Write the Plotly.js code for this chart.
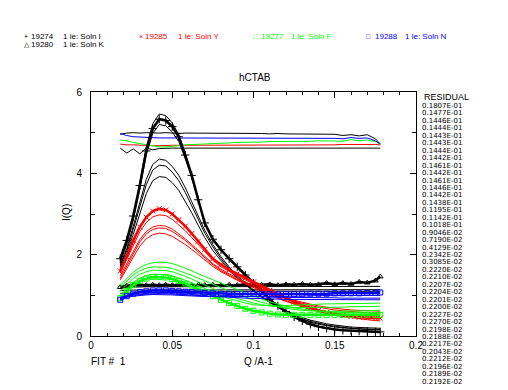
<!DOCTYPE html>
<html>
<head>
<meta charset="utf-8">
<script src="https://cdn.plot.ly/plotly-3.0.1.min.js"></script>
<style>
html,body{margin:0;padding:0;background:#fff;}
#chart{width:508px;height:390px;}
</style>
</head>
<body>
<div id="chart"></div>
<script>
// ---------- DATA ----------
const Q = [0.018,0.022,0.026,0.030,0.034,0.038,0.042,0.046,0.050,0.054,0.058,0.062,0.066,0.070,0.075,0.080,0.085,0.090,0.095,0.100,0.105,0.110,0.115,0.120,0.125,0.130,0.135,0.140,0.145,0.150,0.155,0.160,0.165,0.170,0.175,0.178];

// Soln I (black, +)
const solnI_data = [1.9,2.35,2.95,3.7,4.55,5.1,5.33,5.3,5.15,4.9,4.45,3.95,3.35,2.78,2.38,2.12,1.9,1.7,1.5,1.3,1.1,0.9,0.74,0.6,0.47,0.37,0.29,0.23,0.19,0.16,0.14,0.13,0.12,0.11,0.1,0.1];
const solnI_fit1 = [1.85,2.3,2.95,3.75,4.65,5.22,5.46,5.42,5.24,4.95,4.48,3.95,3.35,2.76,2.36,2.1,1.88,1.68,1.48,1.28,1.08,0.89,0.73,0.59,0.47,0.37,0.29,0.23,0.19,0.16,0.14,0.13,0.12,0.11,0.1,0.1];
const solnI_fit2 = [1.8,2.25,2.85,3.6,4.45,4.98,5.2,5.17,5.02,4.78,4.36,3.88,3.32,2.76,2.38,2.13,1.91,1.71,1.51,1.31,1.11,0.92,0.75,0.61,0.49,0.38,0.3,0.24,0.2,0.17,0.15,0.13,0.12,0.11,0.11,0.1];
const solnI_fit3 = [1.75,2.15,2.7,3.3,3.85,4.22,4.35,4.32,4.17,3.95,3.65,3.3,2.95,2.6,2.25,1.95,1.7,1.48,1.3,1.13,0.97,0.83,0.7,0.59,0.49,0.41,0.34,0.29,0.25,0.22,0.2,0.18,0.17,0.16,0.15,0.15];
const solnI_fit4 = [1.72,2.1,2.62,3.2,3.72,4.08,4.2,4.18,4.03,3.82,3.53,3.2,2.86,2.53,2.19,1.9,1.66,1.45,1.27,1.11,0.96,0.82,0.7,0.59,0.5,0.42,0.36,0.31,0.27,0.24,0.21,0.19,0.18,0.17,0.16,0.16];
const solnI_fit5 = [1.68,2.03,2.5,3.02,3.5,3.82,3.92,3.9,3.77,3.58,3.32,3.03,2.72,2.42,2.1,1.84,1.61,1.42,1.25,1.1,0.96,0.83,0.72,0.62,0.53,0.45,0.39,0.34,0.3,0.27,0.24,0.22,0.21,0.2,0.19,0.19];

// Soln K (black, triangle)
const solnK_data = [1.2,1.24,1.25,1.26,1.25,1.26,1.25,1.26,1.25,1.26,1.25,1.25,1.26,1.25,1.26,1.25,1.26,1.25,1.27,1.25,1.26,1.27,1.25,1.27,1.26,1.28,1.26,1.27,1.3,1.27,1.3,1.28,1.33,1.31,1.36,1.46];
const solnK_fit1 = [1.18,1.2,1.2,1.21,1.21,1.21,1.21,1.21,1.21,1.21,1.21,1.21,1.21,1.21,1.21,1.21,1.21,1.22,1.22,1.22,1.22,1.22,1.22,1.22,1.22,1.22,1.22,1.22,1.22,1.22,1.22,1.22,1.22,1.22,1.22,1.22];
const solnK_fit2 = [1.12,1.13,1.13,1.13,1.13,1.13,1.13,1.13,1.13,1.13,1.13,1.13,1.13,1.13,1.13,1.13,1.13,1.13,1.14,1.14,1.14,1.14,1.14,1.14,1.14,1.14,1.14,1.14,1.14,1.14,1.14,1.14,1.14,1.14,1.14,1.14];
const solnK_fit3 = [1.05,1.06,1.06,1.06,1.06,1.06,1.06,1.06,1.06,1.07,1.07,1.07,1.07,1.08,1.08,1.09,1.09,1.1,1.1,1.1,1.1,1.1,1.1,1.1,1.1,1.1,1.1,1.1,1.1,1.1,1.1,1.1,1.1,1.1,1.1,1.1];

// Soln Y (red, x)
const solnY_data = [1.6,1.95,2.35,2.68,2.92,3.07,3.13,3.1,3.0,2.86,2.7,2.52,2.33,2.13,1.9,1.76,1.63,1.53,1.43,1.33,1.22,1.12,1.02,0.93,0.84,0.76,0.69,0.63,0.58,0.54,0.51,0.48,0.46,0.45,0.44,0.44];
const solnY_fit1 = [1.55,1.88,2.25,2.56,2.79,2.93,2.98,2.96,2.87,2.74,2.59,2.42,2.24,2.06,1.86,1.7,1.58,1.48,1.38,1.28,1.19,1.1,1.02,0.95,0.88,0.83,0.78,0.74,0.71,0.68,0.66,0.64,0.63,0.62,0.61,0.61];
const solnY_fit2 = [1.48,1.78,2.1,2.37,2.57,2.68,2.72,2.7,2.63,2.52,2.39,2.25,2.1,1.95,1.78,1.64,1.52,1.42,1.33,1.24,1.15,1.07,0.99,0.92,0.86,0.8,0.75,0.71,0.67,0.64,0.62,0.6,0.58,0.57,0.56,0.56];
const solnY_fit3 = [1.42,1.72,2.04,2.31,2.51,2.62,2.66,2.64,2.57,2.47,2.35,2.21,2.07,1.92,1.75,1.61,1.49,1.39,1.3,1.21,1.12,1.03,0.95,0.87,0.8,0.74,0.69,0.64,0.6,0.57,0.54,0.52,0.5,0.48,0.47,0.47];
const solnY_fit4 = [1.38,1.66,1.96,2.21,2.39,2.49,2.53,2.51,2.45,2.36,2.25,2.13,2.0,1.87,1.71,1.58,1.47,1.37,1.28,1.19,1.1,1.01,0.93,0.85,0.78,0.71,0.65,0.6,0.55,0.51,0.48,0.45,0.42,0.4,0.38,0.37];

// Soln F (green, square)
const solnF_data = [0.93,1.1,1.25,1.35,1.41,1.45,1.45,1.44,1.4,1.35,1.29,1.22,1.15,1.07,0.98,0.89,0.81,0.74,0.67,0.62,0.58,0.55,0.53,0.52,0.52,0.52,0.52,0.52,0.52,0.52,0.52,0.52,0.52,0.52,0.52,0.52];
const solnF_fit1 = [1.25,1.42,1.57,1.68,1.76,1.8,1.82,1.81,1.78,1.73,1.67,1.6,1.53,1.46,1.38,1.3,1.22,1.14,1.06,0.98,0.91,0.84,0.78,0.73,0.69,0.66,0.63,0.61,0.6,0.59,0.58,0.58,0.57,0.57,0.56,0.56];
const solnF_fit2 = [1.2,1.36,1.5,1.6,1.67,1.7,1.7,1.69,1.66,1.61,1.55,1.49,1.42,1.35,1.27,1.19,1.11,1.03,0.96,0.89,0.83,0.77,0.72,0.68,0.65,0.63,0.62,0.61,0.61,0.61,0.61,0.62,0.62,0.62,0.63,0.63];
const solnF_fit3 = [1.1,1.27,1.42,1.52,1.58,1.62,1.62,1.61,1.58,1.53,1.47,1.4,1.33,1.25,1.16,1.07,0.99,0.92,0.86,0.81,0.77,0.74,0.72,0.71,0.7,0.7,0.7,0.7,0.7,0.71,0.71,0.72,0.72,0.73,0.73,0.73];
const solnF_fit4 = [1.0,1.16,1.32,1.42,1.49,1.52,1.52,1.51,1.48,1.43,1.37,1.31,1.24,1.16,1.07,0.99,0.92,0.86,0.81,0.77,0.75,0.74,0.74,0.75,0.76,0.77,0.78,0.78,0.79,0.79,0.8,0.8,0.8,0.81,0.81,0.81];

// Soln N (blue, square)
const solnN_data = [0.89,0.98,1.04,1.08,1.1,1.12,1.12,1.12,1.11,1.1,1.09,1.08,1.07,1.06,1.05,1.04,1.04,1.03,1.03,1.03,1.03,1.03,1.03,1.03,1.03,1.04,1.04,1.04,1.04,1.05,1.05,1.05,1.05,1.06,1.06,1.07];
const solnN_fit1 = [0.95,1.0,1.04,1.06,1.07,1.08,1.08,1.08,1.07,1.06,1.05,1.04,1.03,1.02,1.01,1.0,0.99,0.98,0.97,0.97,0.96,0.96,0.95,0.95,0.95,0.94,0.94,0.94,0.94,0.94,0.93,0.93,0.93,0.93,0.93,0.93];
const solnN_fit2 = [0.93,0.97,1.0,1.02,1.03,1.04,1.04,1.04,1.03,1.02,1.01,1.0,0.99,0.98,0.97,0.96,0.95,0.94,0.93,0.92,0.92,0.91,0.91,0.9,0.9,0.9,0.89,0.89,0.89,0.89,0.89,0.89,0.89,0.89,0.89,0.89];
const solnN_fit3 = [0.9,0.95,0.98,1.0,1.01,1.02,1.02,1.02,1.01,1.0,0.99,0.98,0.98,0.97,0.97,0.97,0.97,0.97,0.97,0.97,0.97,0.98,0.98,0.98,0.98,0.98,0.99,0.99,0.99,0.99,0.99,0.99,1.0,1.0,1.0,1.0];

// upper flat curves
const top_black1 = [4.96,4.99,5.0,4.99,5.0,4.99,4.99,5.0,4.99,4.98,4.99,4.99,4.98,4.99,4.99,4.98,4.98,4.99,4.98,4.98,4.98,4.97,4.98,4.97,4.97,4.97,4.97,4.96,4.96,4.96,4.93,4.95,4.92,4.95,4.85,4.72];
const top_blue = [4.98,4.93,4.9,4.89,4.88,4.87,4.87,4.87,4.87,4.87,4.87,4.87,4.87,4.87,4.87,4.87,4.87,4.87,4.87,4.87,4.87,4.87,4.87,4.87,4.87,4.87,4.86,4.87,4.86,4.86,4.85,4.88,4.86,4.87,4.8,4.72];
const top_green = [4.82,4.8,4.76,4.73,4.71,4.68,4.65,4.65,4.66,4.68,4.7,4.71,4.72,4.73,4.74,4.75,4.75,4.76,4.76,4.77,4.77,4.78,4.78,4.78,4.79,4.79,4.79,4.8,4.8,4.8,4.79,4.83,4.8,4.82,4.78,4.72];
const top_red = [4.72,4.7,4.7,4.69,4.68,4.68,4.68,4.69,4.69,4.69,4.69,4.69,4.69,4.69,4.69,4.69,4.69,4.69,4.69,4.7,4.7,4.7,4.7,4.7,4.7,4.7,4.7,4.7,4.7,4.7,4.71,4.71,4.72,4.72,4.71,4.7];
const top_black2 = [4.62,4.5,4.6,4.48,4.62,4.58,4.61,4.62,4.62,4.62,4.62,4.62,4.62,4.62,4.62,4.62,4.62,4.62,4.62,4.61,4.61,4.61,4.61,4.61,4.61,4.61,4.61,4.61,4.61,4.61,4.61,4.61,4.61,4.61,4.62,4.62];

// residual column
const residuals = ["0.1807E-01","0.1477E-01","0.1446E-01","0.1444E-01","0.1443E-01","0.1443E-01","0.1444E-01","0.1442E-01","0.1461E-01","0.1442E-01","0.1461E-01","0.1446E-01","0.1442E-01","0.1438E-01","0.1195E-01","0.1142E-01","0.1018E-01","0.9046E-02","0.7190E-02","0.4129E-02","0.2342E-02","0.3085E-02","0.2220E-02","0.2210E-02","0.2207E-02","0.2204E-02","0.2201E-02","0.2200E-02","0.2227E-02","0.2270E-02","0.2198E-02","0.2188E-02","0.2217E-02","0.2043E-02","0.2212E-02","0.2196E-02","0.2189E-02","0.2192E-02"];

// legend entries
const legendRows = [
  {sym:"+", run:"19274", label:"1 le: Soln I", color:"#000000", col:0, row:0},
  {sym:"\u00d7", run:"19285", label:"1 le: Soln Y", color:"#ff0000", col:1, row:0},
  {sym:"\u25a1", run:"19277", label:"1 le: Soln F", color:"#00ff00", col:2, row:0},
  {sym:"\u25a1", run:"19288", label:"1 le: Soln N", color:"#0000ff", col:3, row:0},
  {sym:"\u25b3", run:"19280", label:"1 le: Soln K", color:"#000000", col:0, row:1}
];
const xTickVals = [0,0.05,0.1,0.15,0.2];
const xTickText = ["0","0.05","0.1","0.15","0.2"];

// ---------- BUILD ----------
const BLACK="#000000", RED="#ff0000", GREEN="#00ff00", BLUE="#0000ff";
const traces = [];
function fit(y, color){ traces.push({x:Q, y:y, type:"scatter", mode:"lines", line:{color:color, width:1}, hoverinfo:"skip"}); }
function dat(y, color, sym, size){ traces.push({x:Q, y:y, type:"scatter", mode:"lines+markers", line:{color:color, width:2.5},
  marker:{symbol:sym, size:size, color:color, line:{color:color, width:1}}, hoverinfo:"skip"}); }

[top_black1, top_black2].forEach(a=>fit(a,BLACK));
fit(top_red,RED); fit(top_green,GREEN); fit(top_blue,BLUE);

[solnI_fit1, solnI_fit2, solnI_fit3, solnI_fit4, solnI_fit5].forEach(a=>fit(a,BLACK));
dat(solnI_data, BLACK, "cross-thin-open", 6);
[solnK_fit1, solnK_fit2, solnK_fit3].forEach(a=>fit(a,BLACK));
dat(solnK_data, BLACK, "triangle-up-open", 5);
[solnY_fit1, solnY_fit2, solnY_fit3, solnY_fit4].forEach(a=>fit(a,RED));
dat(solnY_data, RED, "x-thin-open", 5);
[solnF_fit1, solnF_fit2, solnF_fit3, solnF_fit4].forEach(a=>fit(a,GREEN));
dat(solnF_data, GREEN, "square-open", 5);
[solnN_fit1, solnN_fit2, solnN_fit3].forEach(a=>fit(a,BLUE));
dat(solnN_data, BLUE, "square-open", 5);

// pixel -> paper helpers (plot area: x 91..416, y 92..336)
const L=91, R=416, T=92, B=336;
const px = v => (v-L)/(R-L);
const py = v => (B-v)/(B-T);
const FONT = "Liberation Sans, Arial, sans-serif";
const ann = [];
function txt(t, x, y, color, size, extra, fam){ ann.push(Object.assign({text:t, xref:"paper", yref:"paper", x:px(x), y:py(y),
  xanchor:"left", yanchor:"middle", showarrow:false, font:{family:fam||FONT, size:size, color:color}, borderpad:0}, extra||{})); }

const colSym=[24,139,253,366], colRun=[30,144,260,374], colLab=[62,177,290,404], rowY=[36.5,45];
legendRows.forEach(r=>{
  txt(r.sym, colSym[r.col]-1, rowY[r.row], r.color, 7);
  txt(r.run, colRun[r.col], rowY[r.row], r.color, 8);
  txt(r.label, colLab[r.col], rowY[r.row], r.color, 8);
});
txt("hCTAB", 255, 77, BLACK, 10, {xanchor:"center"});
txt("RESIDUAL", 423, 97, BLACK, 9);
residuals.forEach((s,i)=>txt(s, 421, 106 + i*7.45, BLACK, 7, null, "DejaVu Sans, sans-serif"));
txt("I(Q)", 66, 213, BLACK, 10, {xanchor:"center", textangle:-90});
txt("FIT #  1", 90, 361, BLACK, 10);
txt("Q /A-1", 258, 361, BLACK, 10, {xanchor:"center"});

const layout = {
  width:508, height:390,
  margin:{l:L, r:508-R, t:T, b:390-B, pad:0},
  paper_bgcolor:"#ffffff", plot_bgcolor:"#ffffff",
  showlegend:false,
  font:{family:FONT, size:10, color:BLACK},
  xaxis:{range:[0,0.2], tickvals:xTickVals, ticktext:xTickText, ticks:"inside", ticklen:6, tickcolor:BLACK, tickwidth:1,
    minor:{dtick:0.01, ticks:"inside", ticklen:3, tickcolor:BLACK, showgrid:false},
    showline:true, linecolor:BLACK, linewidth:1, mirror:"allticks", showgrid:false, zeroline:false,
    tickfont:{family:FONT, size:10, color:BLACK}},
  yaxis:{range:[0,6], dtick:2, tick0:0, ticks:"inside", ticklen:6, tickcolor:BLACK, tickwidth:1,
    minor:{dtick:1, ticks:"inside", ticklen:4, tickcolor:BLACK, showgrid:false},
    showline:true, linecolor:BLACK, linewidth:1, mirror:"allticks", showgrid:false, zeroline:false,
    ticklabelstandoff:6,
    tickfont:{family:FONT, size:10, color:BLACK}},
  annotations: ann
};
Plotly.newPlot("chart", traces, layout, {staticPlot:true, displayModeBar:false});
</script>
</body>
</html>
